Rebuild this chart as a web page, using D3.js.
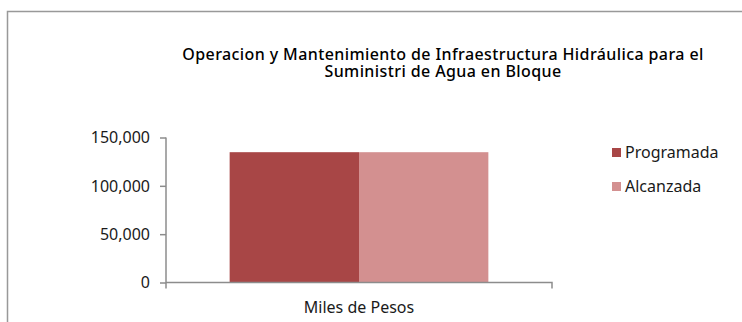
<!DOCTYPE html>
<html>
<head>
<meta charset="utf-8">
<script src="https://cdn.jsdelivr.net/npm/d3@7/dist/d3.min.js"></script>
<style>
  html, body { margin: 0; padding: 0; background: #fff; }
  svg { display: block; font-family: "Noto Sans", "Open Sans", sans-serif; }
</style>
</head>
<body>
<svg id="chart" width="742" height="322"></svg>
<script>
// Chart data
const categories = ["Miles de Pesos"];
const seriesNames = ["Programada", "Alcanzada"];
const programada = [134800];
const alcanzada = [134800];
const yTicks = [0, 50000, 100000, 150000];
const titleLines = ["Operacion y Mantenimiento de Infraestructura Hidráulica para el", "Suministri de Agua en Bloque"];

const colors = ["#A84646", "#D39090"];
const axisColor = "#8c8c8c";
const textColor = "#1a1a1a";

const svg = d3.select("#chart");

// Outer chart-area frame
svg.append("rect")
  .attr("x", 7.5).attr("y", 11.5)
  .attr("width", 760).attr("height", 340)
  .attr("fill", "none")
  .attr("stroke", "#999").attr("stroke-width", 1.5);

// Title, two lines
svg.append("g").selectAll("text").data(titleLines).join("text")
  .attr("text-anchor", "middle")
  .attr("fill", "#000")
  .attr("font-size", 16)
  .attr("font-weight", 500)
  .attr("letter-spacing", 0.4)
  .attr("x", 443)
  .attr("y", (d, i) => 59.5 + i * 17)
  .text(d => d);

// Scales
const x0 = d3.scaleBand().domain(categories).range([166, 552]).paddingInner(0).paddingOuter(0.246);
const x1 = d3.scaleBand().domain(seriesNames).range([0, x0.bandwidth()]).padding(0);
const y = d3.scaleLinear().domain([0, 150000]).range([282.5, 137.5]);

// Bars
const rows = categories.map((c, i) => ({ cat: c, values: [programada[i], alcanzada[i]] }));
const groups = svg.append("g").selectAll("g").data(rows).join("g")
  .attr("transform", d => `translate(${x0(d.cat)},0)`);
groups.selectAll("rect")
  .data(d => d.values.map((v, j) => ({ name: seriesNames[j], value: v, j })))
  .join("rect")
  .attr("x", d => x1(d.name))
  .attr("y", d => y(d.value))
  .attr("width", x1.bandwidth())
  .attr("height", d => y(0) - y(d.value))
  .attr("fill", d => colors[d.j]);

// Y axis
const yAxis = d3.axisLeft(y).tickValues(yTicks).tickSize(6).tickPadding(10)
  .tickFormat(d3.format(","));
const gy = svg.append("g").attr("transform", "translate(166,0)").call(yAxis);
gy.select(".domain").attr("stroke", axisColor).attr("stroke-width", 1.5)
  .attr("d", `M0,${y(150000)}V${y(0) + 6}`);
gy.selectAll(".tick line").attr("stroke", axisColor).attr("stroke-width", 1.5);
gy.selectAll(".tick text").attr("fill", textColor).attr("font-size", 16)
  .attr("font-family", "Noto Sans, sans-serif").attr("dy", "0.34em");

// X axis
const xAxis = d3.axisBottom(x0).tickSize(0).tickPadding(19);
const gx = svg.append("g").attr("transform", `translate(0,${y(0)})`).call(xAxis);
gx.select(".domain").attr("stroke", axisColor).attr("stroke-width", 1.5)
  .attr("d", `M166,0H552V6`);
gx.selectAll(".tick text").attr("fill", textColor).attr("font-size", 16)
  .attr("font-family", "Noto Sans, sans-serif");

// Legend
const legend = svg.append("g").selectAll("g").data(seriesNames).join("g")
  .attr("transform", (d, i) => `translate(612,${148 + i * 34})`);
legend.append("rect").attr("width", 9).attr("height", 9).attr("fill", (d, i) => colors[i]);
legend.append("text").attr("x", 13).attr("y", 9.5)
  .attr("font-size", 16).attr("fill", textColor).text(d => d);
</script>
</body>
</html>
